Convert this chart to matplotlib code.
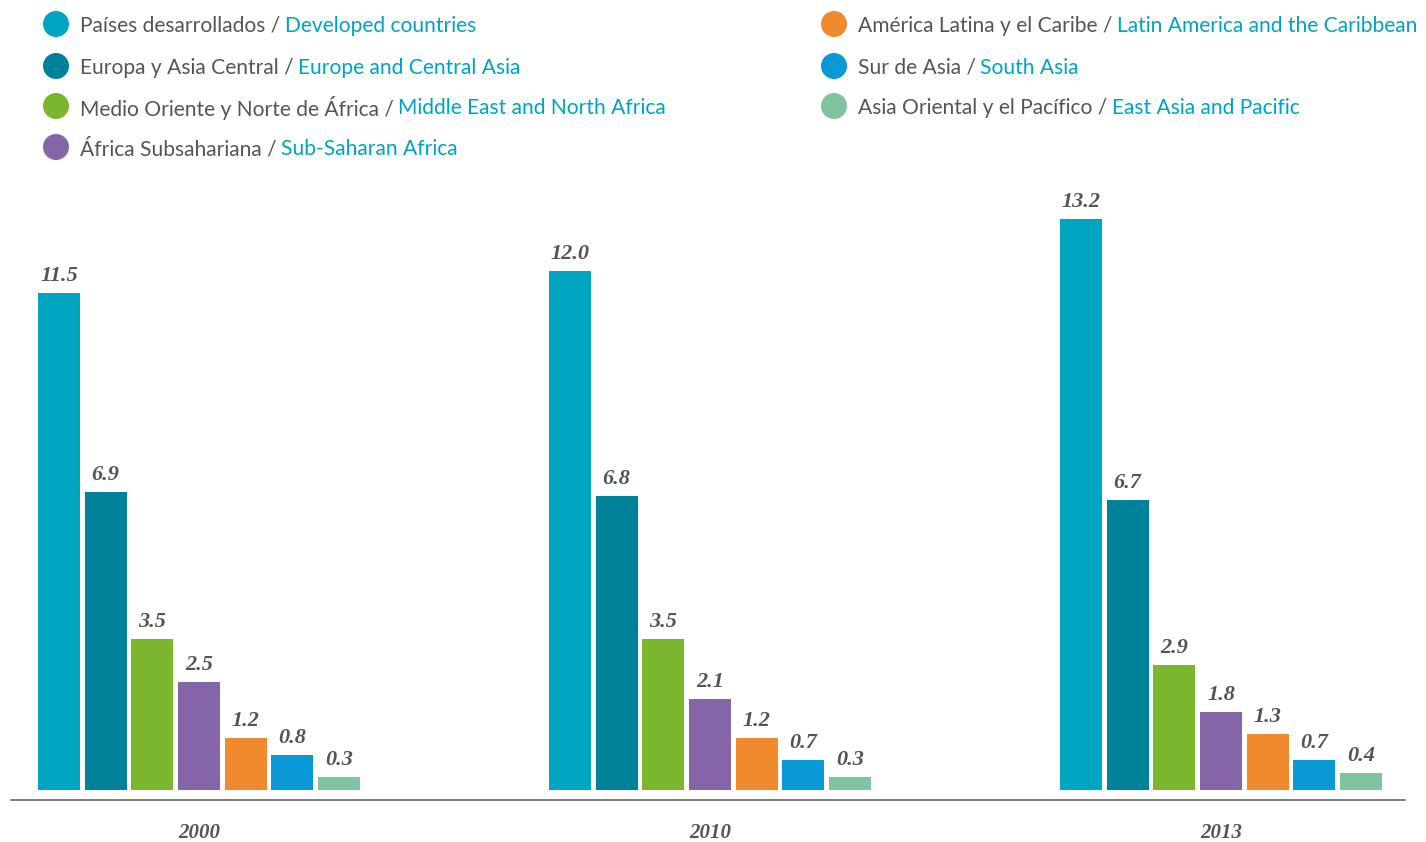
import matplotlib
matplotlib.use("Agg")
import matplotlib.pyplot as plt
import numpy as np

# Data
years = ["2000", "2010", "2013"]
regions_es = [
    "Países desarrollados",
    "Europa y Asia Central",
    "Medio Oriente y Norte de África",
    "África Subsahariana",
    "América Latina y el Caribe",
    "Sur de Asia",
    "Asia Oriental y el Pacífico",
]
regions_en = [
    "Developed countries",
    "Europe and Central Asia",
    "Middle East and North Africa",
    "Sub-Saharan Africa",
    "Latin America and the Caribbean",
    "South Asia",
    "East Asia and Pacific",
]
values_2000 = [11.5, 6.9, 3.5, 2.5, 1.2, 0.8, 0.3]
values_2010 = [12.0, 6.8, 3.5, 2.1, 1.2, 0.7, 0.3]
values_2013 = [13.2, 6.7, 2.9, 1.8, 1.3, 0.7, 0.4]
colors = ["#00A5C2", "#00829A", "#7AB72D", "#8465A8", "#F08A2E", "#0899D6", "#7FC49F"]

W, H = 1426, 842
fig = plt.figure(figsize=(W / 100, H / 100), dpi=100)

GRAY = "#555555"
TEAL = "#00A3C4"
serif = ["Liberation Serif", "DejaVu Serif"]

# axes geometry in pixels
x_left, x_right = 11, 1405
y_axis = 800          # axis line (px from top)
px_per_unit = 43.25
y_top = 170
ymin = -(y_axis - 790) / px_per_unit
ymax = (790 - y_top) / px_per_unit
ax = fig.add_axes([x_left / W, (H - y_axis) / H, (x_right - x_left) / W, (y_axis - y_top) / H])

group_px = 511.0
ax.set_xlim((x_left - 199) / group_px, (x_right - 199) / group_px)
ax.set_ylim(ymin, ymax)

bar_w = 42 / group_px
pitch = 46.67 / group_px
series = [values_2000, values_2010, values_2013]
x_groups = np.arange(len(years))
for g, vals in enumerate(series):
    for i, v in enumerate(vals):
        xc = x_groups[g] + (i - 3) * pitch
        ax.bar(xc, v, width=bar_w, bottom=0, color=colors[i], linewidth=0)
        ax.annotate(f"{v:.1f}", (xc, v), xytext=(0, 8.6), textcoords="offset points",
                    ha="center", va="baseline", fontsize=16, fontweight="bold",
                    fontstyle="italic", color=GRAY, family=serif)

for s in ["top", "right", "left"]:
    ax.spines[s].set_visible(False)
ax.spines["bottom"].set_color("#666666")
ax.spines["bottom"].set_linewidth(1.2)
ax.set_yticks([])
ax.set_xticks(x_groups)
ax.set_xticklabels(years)
ax.tick_params(axis="x", length=0, pad=16.5)
for lab in ax.get_xticklabels():
    lab.set_fontsize(15)
    lab.set_fontweight("bold")
    lab.set_fontstyle("italic")
    lab.set_color(GRAY)
    lab.set_family(serif)

# Legend with bilingual labels
renderer = fig.canvas.get_renderer()
legend_font = ["Lato", "DejaVu Sans"]
left_rows = [0, 1, 2, 3]
right_rows = [4, 5, 6]
row_y = [24, 66, 106, 147]


def legend_entry(idx, row, cx, tx):
    yc = 1 - row_y[row] / H
    yt = 1 - (row_y[row] + 2) / H
    fig.patches.append(matplotlib.patches.Ellipse(
        (cx / W, yc), 26 / W, 26 / H, transform=fig.transFigure,
        facecolor=colors[idx], edgecolor="none"))
    t1 = fig.text(tx / W, yt, regions_es[idx] + " /", ha="left", va="center",
                  fontsize=15.1, color=GRAY, family=legend_font)
    bb = t1.get_window_extent(renderer=renderer)
    fig.text((bb.x1 + 4.5) / W, yt, regions_en[idx], ha="left", va="center",
             fontsize=15.1, color=TEAL, family=legend_font)


for r, idx in enumerate(left_rows):
    legend_entry(idx, r, 56, 80)
for r, idx in enumerate(right_rows):
    legend_entry(idx, r, 834, 858)

fig.savefig("out.png", dpi=100)
